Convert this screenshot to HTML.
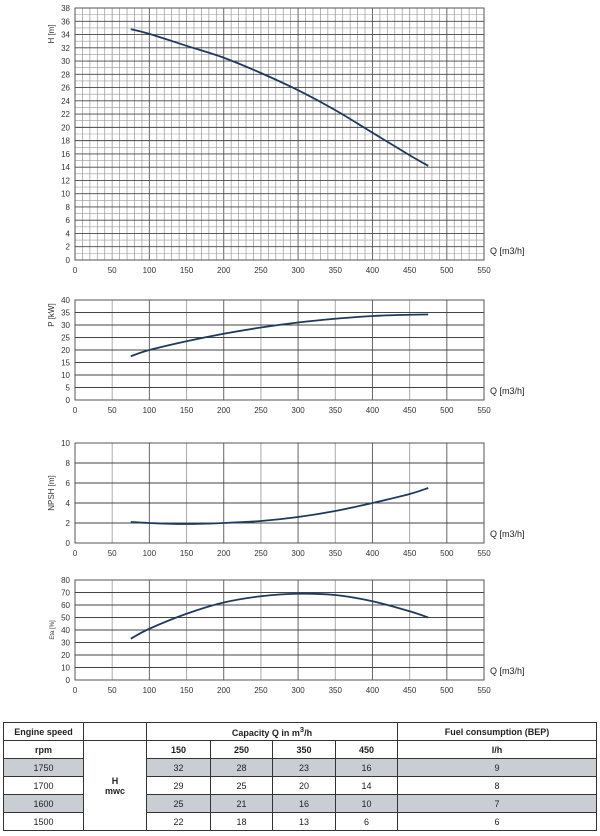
<!DOCTYPE html>
<html><head><meta charset="utf-8"><style>
body{margin:0;background:#fff;width:600px;height:836px;overflow:hidden;font-family:"Liberation Sans",sans-serif}
svg{position:absolute;left:0;top:0}
table{position:absolute;left:3px;top:722px;width:594px;border-collapse:collapse;font-size:9px;color:#222}
td{border:1px solid #333;text-align:center;height:17px;padding:0}
.h td{font-weight:bold}
.g td.v{background:#c9ced5}
</style></head><body>
<svg id="c" width="600" height="715"></svg>
<table>
<colgroup><col style="width:80px"><col style="width:63px"><col style="width:64px"><col style="width:62px"><col style="width:63px"><col style="width:62px"><col></colgroup>
<tr class="h"><td>Engine speed</td><td></td><td colspan="4">Capacity Q in m<sup>3</sup>/h</td><td>Fuel consumption (BEP)</td></tr>
<tr class="h"><td>rpm</td><td rowspan="5"><b>H<br>mwc</b></td><td>150</td><td>250</td><td>350</td><td>450</td><td>l/h</td></tr>
<tr class="g"><td class="v">1750</td><td class="v">32</td><td class="v">28</td><td class="v">23</td><td class="v">16</td><td class="v">9</td></tr>
<tr><td>1700</td><td>29</td><td>25</td><td>20</td><td>14</td><td>8</td></tr>
<tr class="g"><td class="v">1600</td><td class="v">25</td><td class="v">21</td><td class="v">16</td><td class="v">10</td><td class="v">7</td></tr>
<tr><td>1500</td><td>22</td><td>18</td><td>13</td><td>6</td><td>6</td></tr>
</table>
<script>
const qValues=[75,100,150,200,250,300,350,400,450,475];
const headValues=[34.8,34.1,32.3,30.5,28.2,25.6,22.6,19.2,15.8,14.2];
const powerValues=[17.5,20,23.5,26.5,29,31,32.5,33.6,34.1,34.2];
const npshValues=[2.1,2.0,1.9,2.0,2.2,2.6,3.2,4.0,4.9,5.5];
const etaValues=[33,41,53,62,67,69,68,63,55,50];
const xTicks=[0,50,100,150,200,250,300,350,400,450,500,550];
const svg=document.getElementById('c');
const NS='http://www.w3.org/2000/svg';
function mk(t,a,p){const e=document.createElementNS(NS,t);for(const k in a)e.setAttribute(k,a[k]);(p||svg).appendChild(e);return e;}
const X0=75,X1=484;
const sx=q=>X0+(X1-X0)*q/550;
const charts=[
 {name:'head',top:8,bot:260,max:38,step:2,minor:1,xminor:10,title:'H [m]',vals:headValues},
 {name:'power',top:300,bot:400,max:40,step:5,minor:5,xminor:50,title:'P [kW]',vals:powerValues},
 {name:'npsh',top:443,bot:543,max:10,step:2,minor:2,xminor:50,title:'NPSH [m]',vals:npshValues},
 {name:'efficiency',top:580,bot:680,max:80,step:10,minor:10,xminor:50,title:'Eta [%]',vals:etaValues}
];
charts.forEach(c=>{
 const g=mk('g',{});
 
 
 const sy=v=>c.bot-(c.bot-c.top)*v/c.max;
 for(let q=0;q<=550;q+=c.xminor){const l=mk('line',{x1:sx(q),x2:sx(q),y1:c.top,y2:c.bot,stroke:(q%50===0)?(q%100===0?'#666':'#aaa'):'#999','stroke-width':(q%50===0)?1:0.7},g);}
 for(let v=0;v<=c.max;v+=c.minor){mk('line',{x1:X0,x2:X1,y1:sy(v),y2:sy(v),stroke:v%c.step===0?'#444':'#999','stroke-width':v%c.step===0?0.9:0.6},g);}
 mk('rect',{x:X0,y:c.top,width:X1-X0,height:c.bot-c.top,fill:'none',stroke:'#555','stroke-width':1},g);
 for(let v=0;v<=c.max;v+=c.step){const t=mk('text',{x:X0-5,y:sy(v)+3,'font-size':8,'text-anchor':'end',fill:'#333'},g);t.textContent=v;}
 xTicks.forEach(q=>{const t=mk('text',{x:sx(q),y:c.bot+13,'font-size':8,'text-anchor':'middle',fill:'#333'},g);t.textContent=q;});
 const yt=mk('text',{x:0,y:0,'font-size':c.name==='efficiency'?6:8,'text-anchor':'middle',fill:'#333',transform:`translate(${X0-21},${(c.top+c.bot)/2-(c.name==='head'?100:c.name==='power'?35:0)}) rotate(-90)`},g);
 yt.textContent=c.title;
 
 
 const xt=mk('text',{x:X1+6,y:c.bot-6,'font-size':9,fill:'#222'},g);
 xt.textContent='Q [m3/h]';
 
 
 const pts=qValues.map((q,i)=>[sx(q),sy(c.vals[i])]);
 let d='M'+pts[0];
 for(let i=0;i<pts.length-1;i++){const p0=pts[i-1]||pts[i],p1=pts[i],p2=pts[i+1],p3=pts[i+2]||p2;
  d+=` C${p1[0]+(p2[0]-p0[0])/6},${p1[1]+(p2[1]-p0[1])/6} ${p2[0]-(p3[0]-p1[0])/6},${p2[1]-(p3[1]-p1[1])/6} ${p2[0]},${p2[1]}`;}
 const path=mk('path',{d:d,fill:'none',stroke:'#1f3a5f','stroke-width':1.8},g);
 
 
});
</script>
</body></html>
